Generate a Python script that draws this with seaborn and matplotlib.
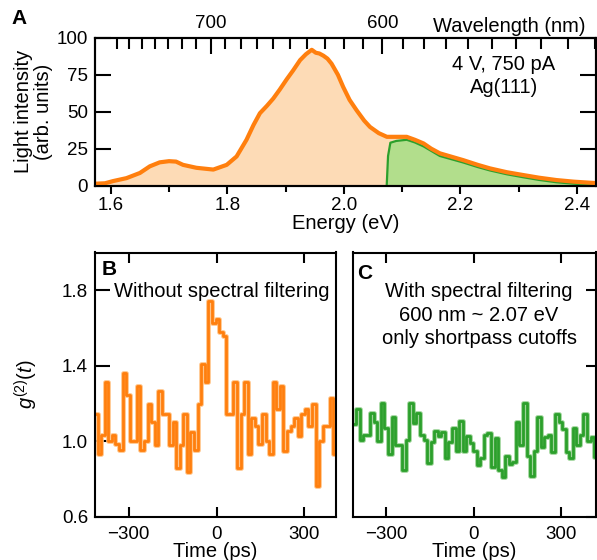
import numpy as np
import pandas as pd
import matplotlib
matplotlib.use("Agg")
import matplotlib.pyplot as plt
import matplotlib.patheffects as pe
import seaborn as sns

# ---------------- data ----------------
energy = [1.572, 1.590, 1.604, 1.627, 1.650, 1.667, 1.684, 1.700, 1.712, 1.724,
          1.747, 1.776, 1.799, 1.816, 1.833, 1.845, 1.856, 1.868, 1.879, 1.890,
          1.902, 1.913, 1.925, 1.935, 1.945, 1.952, 1.958, 1.965, 1.972, 1.979,
          1.990, 1.999, 2.010, 2.022, 2.035, 2.045, 2.060, 2.074, 2.090, 2.108,
          2.122, 2.137, 2.150, 2.165, 2.185, 2.205, 2.230, 2.251, 2.280, 2.308,
          2.335, 2.365, 2.395, 2.422, 2.435]
intensity = [1.2, 1.5, 3.0, 5.0, 8.5, 13.0, 15.7, 16.5, 16.2, 14.0,
             12.0, 10.8, 14.0, 19.7, 31.0, 41.0, 49.0, 54.0, 59.0, 65.0,
             72.0, 78.0, 85.0, 89.0, 92.0, 90.0, 89.5, 88.0, 86.0, 82.6,
             75.0, 66.8, 58.0, 51.0, 44.0, 39.7, 35.5, 33.0, 33.0, 33.0,
             31.0, 28.5, 25.0, 21.8, 19.5, 17.2, 14.0, 11.6, 9.0, 7.1,
             5.3, 3.7, 2.6, 1.9, 1.6]

energy_filt = [2.0737, 2.076, 2.080, 2.090, 2.108, 2.122, 2.137, 2.150, 2.165, 2.185,
               2.205, 2.230, 2.251, 2.280, 2.308, 2.335, 2.365, 2.395, 2.422, 2.435]
intensity_filt = [0.0, 20.0, 29.0, 30.2, 31.0, 29.2, 26.5, 23.5, 20.0, 17.8,
                  15.6, 12.5, 10.2, 7.6, 5.6, 3.8, 2.2, 1.2, 0.7, 0.5]

energy_ticks = [1.6, 1.8, 2.0, 2.2, 2.4]
energy_minor = [1.7, 1.9, 2.1, 2.3]
intensity_ticks = [0, 25, 50, 75, 100]
wl_major = [700, 600]
wl_minor = [770, 760, 750, 740, 730, 720, 710, 690, 680, 670, 660, 650, 640,
            630, 620, 610, 590, 580, 570, 560, 550, 540, 530, 520, 510]

g2_unfiltered = [1.146, 0.932, 1.030, 1.315, 1.003, 1.030, 0.982, 0.954, 1.359, 1.243,
                 1.003, 1.003, 1.291, 0.954, 1.003, 1.195, 1.101, 0.980, 1.267, 1.146,
                 1.146, 0.980, 1.101, 0.858, 0.980, 1.146, 0.835, 1.048, 0.954, 1.195,
                 1.409, 1.315, 1.741, 1.626, 1.649, 1.581, 1.555, 1.146, 1.146, 1.315,
                 0.856, 1.146, 1.315, 0.929, 1.124, 1.078, 0.982, 1.146, 1.003, 0.929,
                 1.315, 1.172, 1.291, 0.950, 1.051, 1.078, 1.124, 1.025, 1.146, 1.172,
                 1.078, 1.194, 0.763, 1.003, 1.078, 1.078, 1.226, 0.929]
g2_filtered = [1.092, 1.172, 1.007, 1.034, 1.034, 1.147, 1.101, 0.998, 1.203, 1.069,
               0.929, 1.128, 0.977, 0.977, 0.847, 1.007, 1.203, 1.096, 1.149, 1.034,
               1.007, 0.883, 0.995, 1.053, 1.027, 1.048, 0.911, 0.995, 1.069, 0.950,
               1.108, 0.950, 1.025, 0.989, 0.945, 0.875, 0.911, 1.034, 1.044, 0.865,
               1.016, 0.849, 0.808, 0.920, 0.879, 0.888, 1.101, 0.977, 1.204, 0.920,
               0.817, 0.945, 1.128, 0.968, 1.021, 1.034, 0.941, 1.146, 1.101, 1.062,
               0.941, 0.911, 1.071, 0.977, 1.034, 1.146, 1.003, 1.021, 0.915]
bin_width_ps = 12.2
t_start_unfiltered = -418.3
t_start_filtered = -416.0
time_ticks = [-300, 0, 300]
g2_ticks = [0.6, 1.0, 1.4, 1.8]

# ---------------- style ----------------
sns.set_theme(style="ticks")
plt.rcParams["font.family"] = ["Liberation Sans", "DejaVu Sans"]
plt.rcParams["mathtext.fontset"] = "custom"
plt.rcParams["mathtext.rm"] = "Liberation Sans"
plt.rcParams["mathtext.it"] = "Liberation Sans:italic"
plt.rcParams["axes.edgecolor"] = "black"
plt.rcParams["axes.linewidth"] = 1.5
plt.rcParams["xtick.color"] = "black"
plt.rcParams["ytick.color"] = "black"
plt.rcParams["text.color"] = "black"
plt.rcParams["axes.labelcolor"] = "black"

ORANGE = "#ff7f0e"
PEACH = "#fddbb6"
GREEN = "#2ca02c"
LGREEN = "#b2de8c"
FS = 14.5
TFS = 13.5

fig = plt.figure(figsize=(5.97, 5.60), dpi=100)
W, H = 597.0, 560.0

# ---------------- panel A ----------------
axA = fig.add_axes([95 / W, 1 - 185.5 / H, 501 / W, 147.5 / H])
axA.fill_between(energy, intensity, 0, color=PEACH, lw=0, zorder=1)
axA.fill_between(energy_filt, intensity_filt, 0, color=LGREEN, lw=0, zorder=2)
sns.lineplot(x=energy_filt, y=intensity_filt, ax=axA, color=GREEN, lw=1.6,
             sort=False, zorder=3)
sns.lineplot(x=energy, y=intensity, ax=axA, color=ORANGE, lw=3.0,
             sort=False, zorder=4)
axA.set_xlim(1.5729, 2.433)
axA.set_ylim(0, 100)
axA.set_xticks(energy_ticks)
axA.set_xticks(energy_minor, minor=True)
axA.set_xticklabels([f"{v:.1f}" for v in energy_ticks])
axA.set_yticks(intensity_ticks)
axA.tick_params(axis="y", which="major", direction="in", length=11.5, width=1.5,
                left=True, right=True, labelsize=TFS, pad=5)
axA.tick_params(axis="x", which="major", direction="out", length=5.5, width=1.5,
                bottom=True, top=False, labelsize=TFS, pad=3)
axA.tick_params(axis="x", which="minor", direction="out", length=4.5, width=1.5,
                bottom=True, top=False)
axA.set_xlabel("Energy (eV)", fontsize=FS)
axA.xaxis.set_label_coords(0.5, -0.195)
axA.set_ylabel("Light intensity\n(arb. units)", fontsize=FS, linespacing=1.05)
axA.yaxis.set_label_coords(-0.084, 0.5)

axT = axA.twiny()
axT.set_xlim(axA.get_xlim())
axT.set_xticks([1239.84 / w for w in wl_major])
axT.set_xticklabels([str(w) for w in wl_major])
axT.set_xticks([1239.84 / w for w in wl_minor], minor=True)
axT.tick_params(axis="x", which="major", direction="in", length=11.5, width=1.5,
                top=True, bottom=False, labelsize=TFS, pad=4)
axT.tick_params(axis="x", which="minor", direction="in", length=8, width=1.5,
                top=True, bottom=False)
for ax in (axA, axT):
    for s in ax.spines.values():
        s.set_linewidth(1.5)
        s.set_color("black")

axA.text(0.6747, 1.081, "Wavelength (nm)", transform=axA.transAxes,
         fontsize=FS, ha="left", va="center")
axA.text(0.8164, 0.74, "4 V, 750 pA\nAg(111)", transform=axA.transAxes,
         fontsize=FS, ha="center", va="center", linespacing=1.25)
fig.text(19 / W, 1 - 19 / H, "A", fontsize=15, fontweight="bold",
         ha="center", va="center")

# ---------------- panels B and C ----------------
def step_frame(values, t0):
    edges = t0 + bin_width_ps * np.arange(len(values) + 1)
    vals = list(values) + [values[-1]]
    return pd.DataFrame({"t": edges, "g2": vals})

df_b = step_frame(g2_unfiltered, t_start_unfiltered)
df_c = step_frame(g2_filtered, t_start_filtered)

axB = fig.add_axes([95 / W, 1 - 516.5 / H, 241 / W, 264 / H])
sns.lineplot(data=df_b, x="t", y="g2", ax=axB, color=ORANGE, lw=2.0,
             drawstyle="steps-post",
             path_effects=[pe.Stroke(linewidth=3.4, foreground="#ffc489"), pe.Normal()])
axB.set_xlim(-415, 408)
axB.set_ylim(0.6, 2.0)
axB.set_xticks(time_ticks)
axB.set_yticks(g2_ticks)
axB.tick_params(axis="y", direction="in", length=11, width=1.5, left=True,
                right=False, labelsize=TFS, pad=5)
axB.tick_params(axis="x", direction="in", length=7, width=1.5, bottom=True,
                top=True, labelsize=TFS, pad=7)
axB.set_xlabel("Time (ps)", fontsize=FS)
axB.xaxis.set_label_coords(0.5, -0.098)
axB.set_ylabel(r"$g^{(2)}(t)$", fontsize=FS)
axB.yaxis.set_label_coords(-0.228, 0.5)
axB.text(0.058, 0.934, "B", transform=axB.transAxes, fontsize=15,
         fontweight="bold", ha="center", va="center")
axB.text(0.525, 0.854, "Without spectral filtering", transform=axB.transAxes,
         fontsize=FS, ha="center", va="center")

axC = fig.add_axes([353 / W, 1 - 516.5 / H, 243 / W, 264 / H])
sns.lineplot(data=df_c, x="t", y="g2", ax=axC, color=GREEN, lw=2.0,
             drawstyle="steps-post",
             path_effects=[pe.Stroke(linewidth=3.4, foreground="#9ed49a"), pe.Normal()])
axC.set_xlim(-414, 420)
axC.set_ylim(0.6, 2.0)
axC.set_xticks(time_ticks)
axC.set_yticks(g2_ticks)
axC.tick_params(axis="y", direction="in", length=7, width=1.5, left=False,
                right=True, labelleft=False, labelright=False)
axC.tick_params(axis="x", direction="in", length=7, width=1.5, bottom=True,
                top=True, labelsize=TFS, pad=7)
axC.set_xlabel("Time (ps)", fontsize=FS)
axC.xaxis.set_label_coords(0.5, -0.098)
axC.set_ylabel("")
axC.text(0.049, 0.922, "C", transform=axC.transAxes, fontsize=15,
         fontweight="bold", ha="center", va="center")
axC.text(0.519, 0.763, "With spectral filtering\n600 nm ~ 2.07 eV\nonly shortpass cutoffs",
         transform=axC.transAxes, fontsize=FS, ha="center", va="center",
         linespacing=1.3)

for ax in (axB, axC):
    for s in ax.spines.values():
        s.set_linewidth(1.5)
        s.set_color("black")

fig.savefig("out.png", dpi=100)
